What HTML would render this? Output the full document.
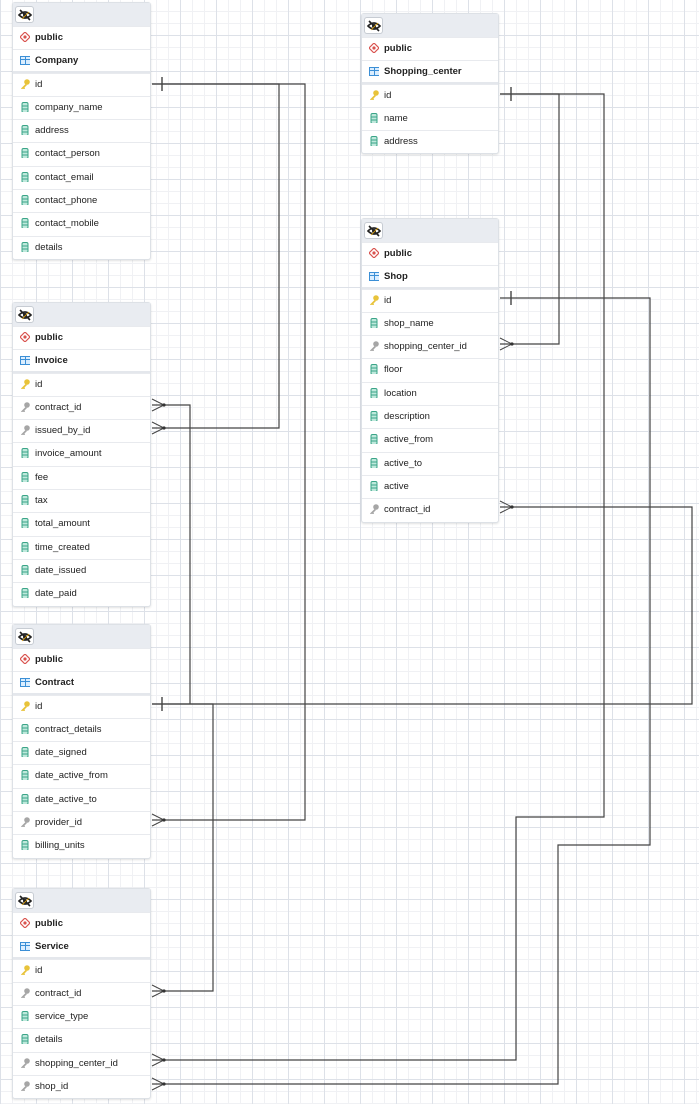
<!DOCTYPE html>
<html><head><meta charset="utf-8"><style>
html,body{margin:0;padding:0}
body{width:699px;height:1104px;position:relative;overflow:hidden;background-color:#fff;
background-image:
linear-gradient(to right,#dde1e8 1px,transparent 1px),
linear-gradient(to bottom,#dde1e8 1px,transparent 1px),
linear-gradient(to right,#f0f1f4 1px,transparent 1px),
linear-gradient(to bottom,#f0f1f4 1px,transparent 1px);
background-size:36px 36px,36px 36px,12px 12px,12px 12px;
background-position:0 -1px,0 -1px,0 -1px,0 -1px;
font-family:"Liberation Sans",sans-serif;}
.t{position:absolute;width:139px;background:#fff;border:1px solid #dde1e6;border-radius:3px;box-shadow:0 1px 2px rgba(0,0,0,.12);box-sizing:border-box}
.h{height:23px;background:#e9ecf1;position:relative}
.b{position:absolute;left:2px;top:3px;width:19px;height:17px;background:#fff;border:1px solid #c7ccd3;border-radius:3px;box-sizing:border-box}
.r{height:23.3px;box-sizing:border-box;border-top:1px solid #e8eaee;font-size:9.5px;color:#222;line-height:21px;padding-left:22px;position:relative;white-space:nowrap}
.r.s{font-weight:bold}
.r.n{border-bottom:2px solid #e4e7ec;height:23.3px}
.i{position:absolute;left:7px;top:5px;width:10px;height:10px}
</style></head><body>
<svg width="0" height="0" style="position:absolute"><defs>
<g id="eye"><path d="M2 8 Q8 2 14 8 Q8 14 2 8Z" fill="none" stroke="#222" stroke-width="1.6"/><circle cx="8" cy="8" r="2" fill="#222"/><line x1="3" y1="3" x2="13" y2="13" stroke="#222" stroke-width="1.6"/><line x1="5" y1="12" x2="12" y2="5" stroke="#e7a400" stroke-width="0.8"/></g>
<g id="pub"><path d="M5 0 L10 5 L5 10 L0 5Z" fill="#fff" stroke="#d9534f" stroke-width="1.2"/><circle cx="5" cy="5" r="1.6" fill="#d9534f"/></g>
<g id="tbl"><rect x="0.5" y="1.5" width="10" height="8" fill="#dbeeff" stroke="#3b8fd6"/><line x1="0.5" y1="4.5" x2="10.5" y2="4.5" stroke="#3b8fd6"/><line x1="5.5" y1="1.5" x2="5.5" y2="9.5" stroke="#3b8fd6"/></g>
<g id="key"><circle cx="7" cy="3" r="2.8" fill="#e8c33a"/><path d="M5.5 5 L1 9.5 L2 10.5 L3 9.5 L4 10.5 L5 9.5 L4.5 8.5 L7 6" fill="#e8c33a"/></g>
<g id="fk"><circle cx="7" cy="3" r="2.8" fill="#a6a6a6"/><path d="M5.5 5 L1 9.5 L2 10.5 L3 9.5 L4 10.5 L5 9.5 L4.5 8.5 L7 6" fill="#a6a6a6"/></g>
<g id="col"><rect x="2" y="0.5" width="6" height="10" rx="1.5" fill="#bfe9dc" stroke="#3aa487"/><line x1="2" y1="4" x2="8" y2="4" stroke="#3aa487"/><line x1="2" y1="7" x2="8" y2="7" stroke="#3aa487"/></g>
</defs></svg>

<!-- Company -->
<div class="t" style="left:12px;top:2px">
<div class="h"><div class="b"><svg class="i" style="left:1px;top:0;width:16px;height:16px" viewBox="0 0 16 16"><use href="#eye"/></svg></div></div>
<div class="r s"><svg class="i"><use href="#pub"/></svg>public</div>
<div class="r s n"><svg class="i"><use href="#tbl"/></svg>Company</div>
<div class="r"><svg class="i"><use href="#key"/></svg>id</div>
<div class="r"><svg class="i"><use href="#col"/></svg>company_name</div>
<div class="r"><svg class="i"><use href="#col"/></svg>address</div>
<div class="r"><svg class="i"><use href="#col"/></svg>contact_person</div>
<div class="r"><svg class="i"><use href="#col"/></svg>contact_email</div>
<div class="r"><svg class="i"><use href="#col"/></svg>contact_phone</div>
<div class="r"><svg class="i"><use href="#col"/></svg>contact_mobile</div>
<div class="r"><svg class="i"><use href="#col"/></svg>details</div>
</div>

<!-- Invoice -->
<div class="t" style="left:12px;top:302px">
<div class="h"><div class="b"><svg class="i" style="left:1px;top:0;width:16px;height:16px" viewBox="0 0 16 16"><use href="#eye"/></svg></div></div>
<div class="r s"><svg class="i"><use href="#pub"/></svg>public</div>
<div class="r s n"><svg class="i"><use href="#tbl"/></svg>Invoice</div>
<div class="r"><svg class="i"><use href="#key"/></svg>id</div>
<div class="r"><svg class="i"><use href="#fk"/></svg>contract_id</div>
<div class="r"><svg class="i"><use href="#fk"/></svg>issued_by_id</div>
<div class="r"><svg class="i"><use href="#col"/></svg>invoice_amount</div>
<div class="r"><svg class="i"><use href="#col"/></svg>fee</div>
<div class="r"><svg class="i"><use href="#col"/></svg>tax</div>
<div class="r"><svg class="i"><use href="#col"/></svg>total_amount</div>
<div class="r"><svg class="i"><use href="#col"/></svg>time_created</div>
<div class="r"><svg class="i"><use href="#col"/></svg>date_issued</div>
<div class="r"><svg class="i"><use href="#col"/></svg>date_paid</div>
</div>

<!-- Contract -->
<div class="t" style="left:12px;top:624px">
<div class="h"><div class="b"><svg class="i" style="left:1px;top:0;width:16px;height:16px" viewBox="0 0 16 16"><use href="#eye"/></svg></div></div>
<div class="r s"><svg class="i"><use href="#pub"/></svg>public</div>
<div class="r s n"><svg class="i"><use href="#tbl"/></svg>Contract</div>
<div class="r"><svg class="i"><use href="#key"/></svg>id</div>
<div class="r"><svg class="i"><use href="#col"/></svg>contract_details</div>
<div class="r"><svg class="i"><use href="#col"/></svg>date_signed</div>
<div class="r"><svg class="i"><use href="#col"/></svg>date_active_from</div>
<div class="r"><svg class="i"><use href="#col"/></svg>date_active_to</div>
<div class="r"><svg class="i"><use href="#fk"/></svg>provider_id</div>
<div class="r"><svg class="i"><use href="#col"/></svg>billing_units</div>
</div>

<!-- Service -->
<div class="t" style="left:12px;top:888px">
<div class="h"><div class="b"><svg class="i" style="left:1px;top:0;width:16px;height:16px" viewBox="0 0 16 16"><use href="#eye"/></svg></div></div>
<div class="r s"><svg class="i"><use href="#pub"/></svg>public</div>
<div class="r s n"><svg class="i"><use href="#tbl"/></svg>Service</div>
<div class="r"><svg class="i"><use href="#key"/></svg>id</div>
<div class="r"><svg class="i"><use href="#fk"/></svg>contract_id</div>
<div class="r"><svg class="i"><use href="#col"/></svg>service_type</div>
<div class="r"><svg class="i"><use href="#col"/></svg>details</div>
<div class="r"><svg class="i"><use href="#fk"/></svg>shopping_center_id</div>
<div class="r"><svg class="i"><use href="#fk"/></svg>shop_id</div>
</div>

<!-- Shopping_center -->
<div class="t" style="left:361px;top:13px;width:138px">
<div class="h"><div class="b"><svg class="i" style="left:1px;top:0;width:16px;height:16px" viewBox="0 0 16 16"><use href="#eye"/></svg></div></div>
<div class="r s"><svg class="i"><use href="#pub"/></svg>public</div>
<div class="r s n"><svg class="i"><use href="#tbl"/></svg>Shopping_center</div>
<div class="r"><svg class="i"><use href="#key"/></svg>id</div>
<div class="r"><svg class="i"><use href="#col"/></svg>name</div>
<div class="r"><svg class="i"><use href="#col"/></svg>address</div>
</div>

<!-- Shop -->
<div class="t" style="left:361px;top:218px;width:138px">
<div class="h"><div class="b"><svg class="i" style="left:1px;top:0;width:16px;height:16px" viewBox="0 0 16 16"><use href="#eye"/></svg></div></div>
<div class="r s"><svg class="i"><use href="#pub"/></svg>public</div>
<div class="r s n"><svg class="i"><use href="#tbl"/></svg>Shop</div>
<div class="r"><svg class="i"><use href="#key"/></svg>id</div>
<div class="r"><svg class="i"><use href="#col"/></svg>shop_name</div>
<div class="r"><svg class="i"><use href="#fk"/></svg>shopping_center_id</div>
<div class="r"><svg class="i"><use href="#col"/></svg>floor</div>
<div class="r"><svg class="i"><use href="#col"/></svg>location</div>
<div class="r"><svg class="i"><use href="#col"/></svg>description</div>
<div class="r"><svg class="i"><use href="#col"/></svg>active_from</div>
<div class="r"><svg class="i"><use href="#col"/></svg>active_to</div>
<div class="r"><svg class="i"><use href="#col"/></svg>active</div>
<div class="r"><svg class="i"><use href="#fk"/></svg>contract_id</div>
</div>

<svg width="699" height="1104" style="position:absolute;left:0;top:0" fill="none" stroke="#444" stroke-width="1.2">
<path d="M152 84 H279 V428 H152"/>
<path d="M152 84 H305 V820 H152"/>
<path d="M152 405 H190 V704"/>
<path d="M152 704 H692 V507 H500"/>
<path d="M152 704 H213 V991 H152"/>
<path d="M500 94 H559 V344 H500"/>
<path d="M500 94 H604 V817 H516 V1060 H152"/>
<path d="M500 298 H650 V845 H558 V1084 H152"/>
<g stroke-width="1.4">
<line x1="162" y1="77" x2="162" y2="91"/>
<line x1="162" y1="697" x2="162" y2="711"/>
<line x1="511" y1="87" x2="511" y2="101"/>
<line x1="511" y1="291" x2="511" y2="305"/>
</g>
<g stroke-width="1">
<path d="M152 399 L164 405 L152 411"/>
<path d="M152 422 L164 428 L152 434"/>
<path d="M152 814 L164 820 L152 826"/>
<path d="M152 985 L164 991 L152 997"/>
<path d="M152 1054 L164 1060 L152 1066"/>
<path d="M152 1078 L164 1084 L152 1090"/>
<path d="M500 338 L512 344 L500 350"/>
<path d="M500 501 L512 507 L500 513"/>
</g>
<g fill="#333" stroke="none">
<circle cx="164" cy="405" r="1.6"/><circle cx="164" cy="428" r="1.6"/><circle cx="164" cy="820" r="1.6"/>
<circle cx="164" cy="991" r="1.6"/><circle cx="164" cy="1060" r="1.6"/><circle cx="164" cy="1084" r="1.6"/>
<circle cx="512" cy="344" r="1.6"/><circle cx="512" cy="507" r="1.6"/>
</g>
</svg>
</body></html>
